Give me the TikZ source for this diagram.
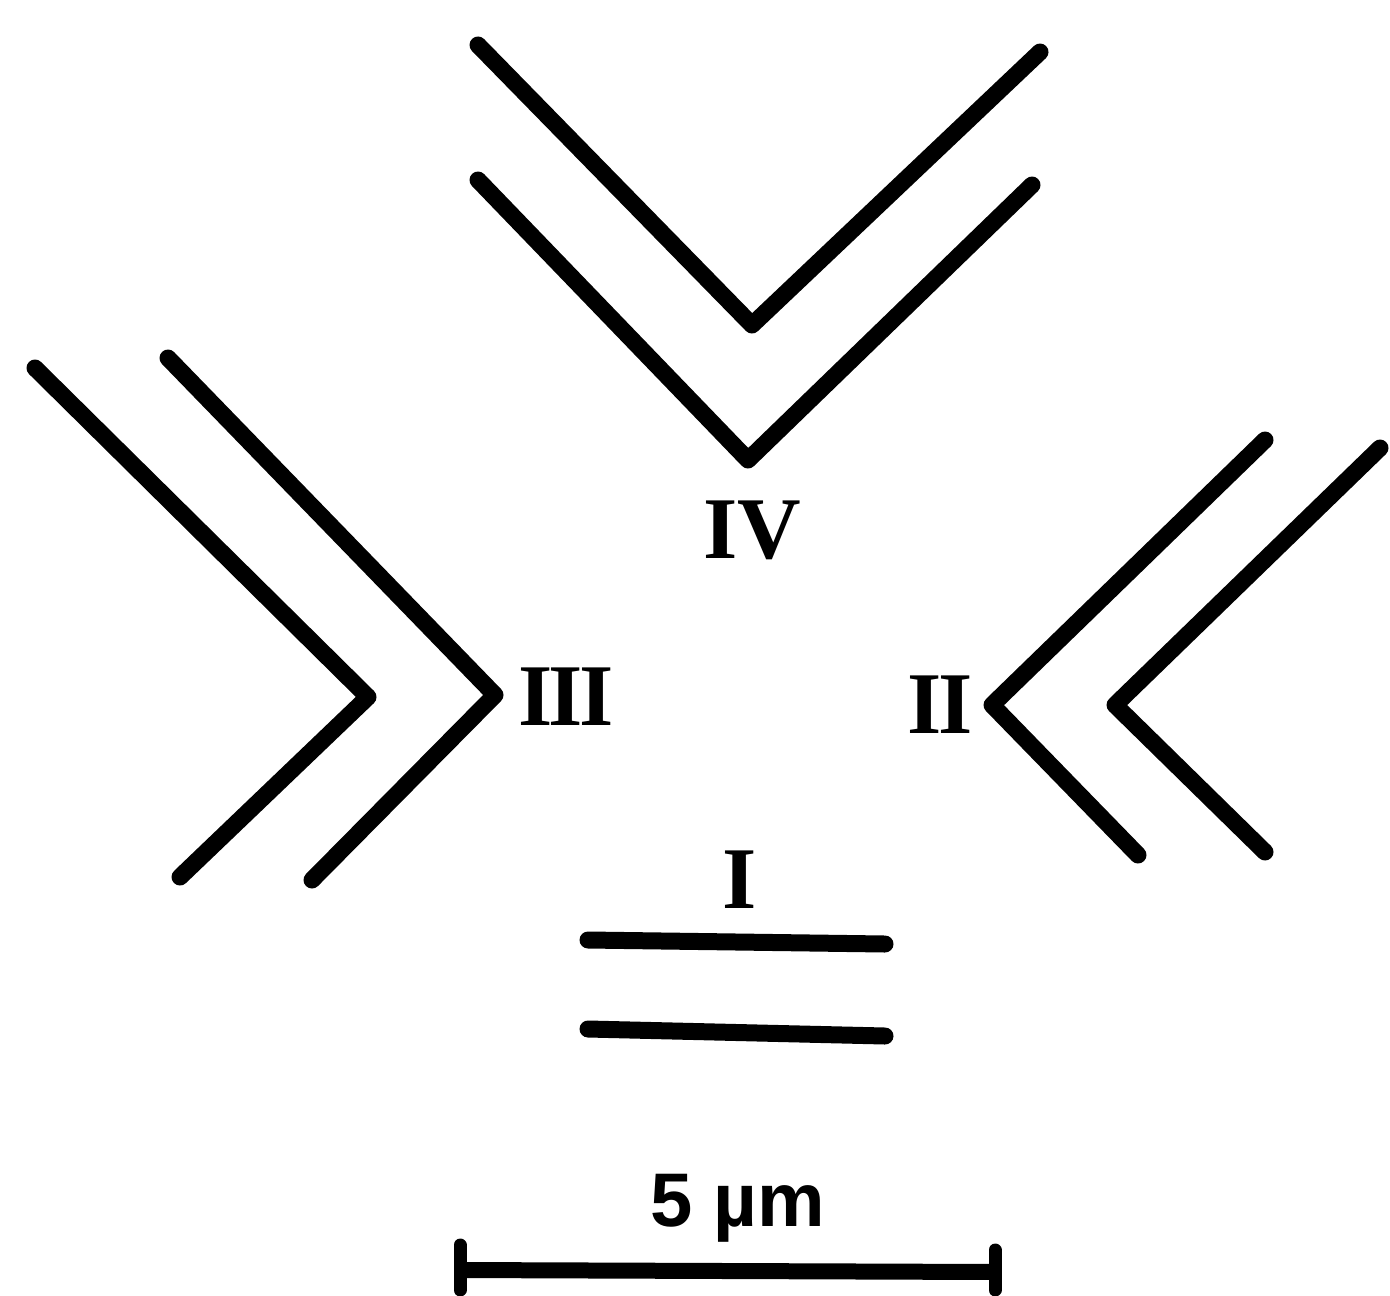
\documentclass[tikz,border=0pt]{standalone}
\usepackage{fontspec}
\setmainfont{Liberation Serif}
\setsansfont{Liberation Sans}
\begin{document}
\begin{tikzpicture}[x=0.5pt,y=-0.5pt,
  stroke/.style={line width=8.5pt,line cap=round,line join=round,black},
  numeral/.style={font=\fontsize{44}{44}\selectfont\bfseries,inner sep=0pt},
  scalelabel/.style={font=\sffamily\fontsize{38}{38}\selectfont\bfseries,inner sep=0pt}]
\useasboundingbox (0,0) rectangle (1390,1295);
% IV
\draw[stroke] (478,45) -- (752,325) -- (1040,52);
\draw[stroke] (478,180) -- (748,460) -- (1032,185);
% III
\draw[stroke] (35,368) -- (368,697) -- (180,877);
\draw[stroke] (168,358) -- (495,695) -- (312,880);
% II
\draw[stroke] (1265,440) -- (992,705) -- (1138,855);
\draw[stroke] (1380,448) -- (1115,705) -- (1265,852);
% I
\draw[stroke] (588,940) -- (885,944);
\draw[stroke] (588,1029) -- (885,1036);
% labels
\node[numeral] (lIV) at (752,530) {IV};
\node[numeral] (lIII) at (566,697) {I\kern-2ptI\kern-2ptI};
\node[numeral] (lII) at (940,705) {I\kern-2ptI};
\node[numeral] (lI) at (740,880) {I};
\node[scalelabel] (lscale) at (738,1208) {5 µm};
% scale bar
\draw[line width=8pt,black] (460,1270) -- (995,1272);
\draw[line width=6.5pt,line cap=round] (460,1245) -- (460,1290);
\draw[line width=6.5pt,line cap=round] (995,1250) -- (995,1290);
\end{tikzpicture}
\end{document}
